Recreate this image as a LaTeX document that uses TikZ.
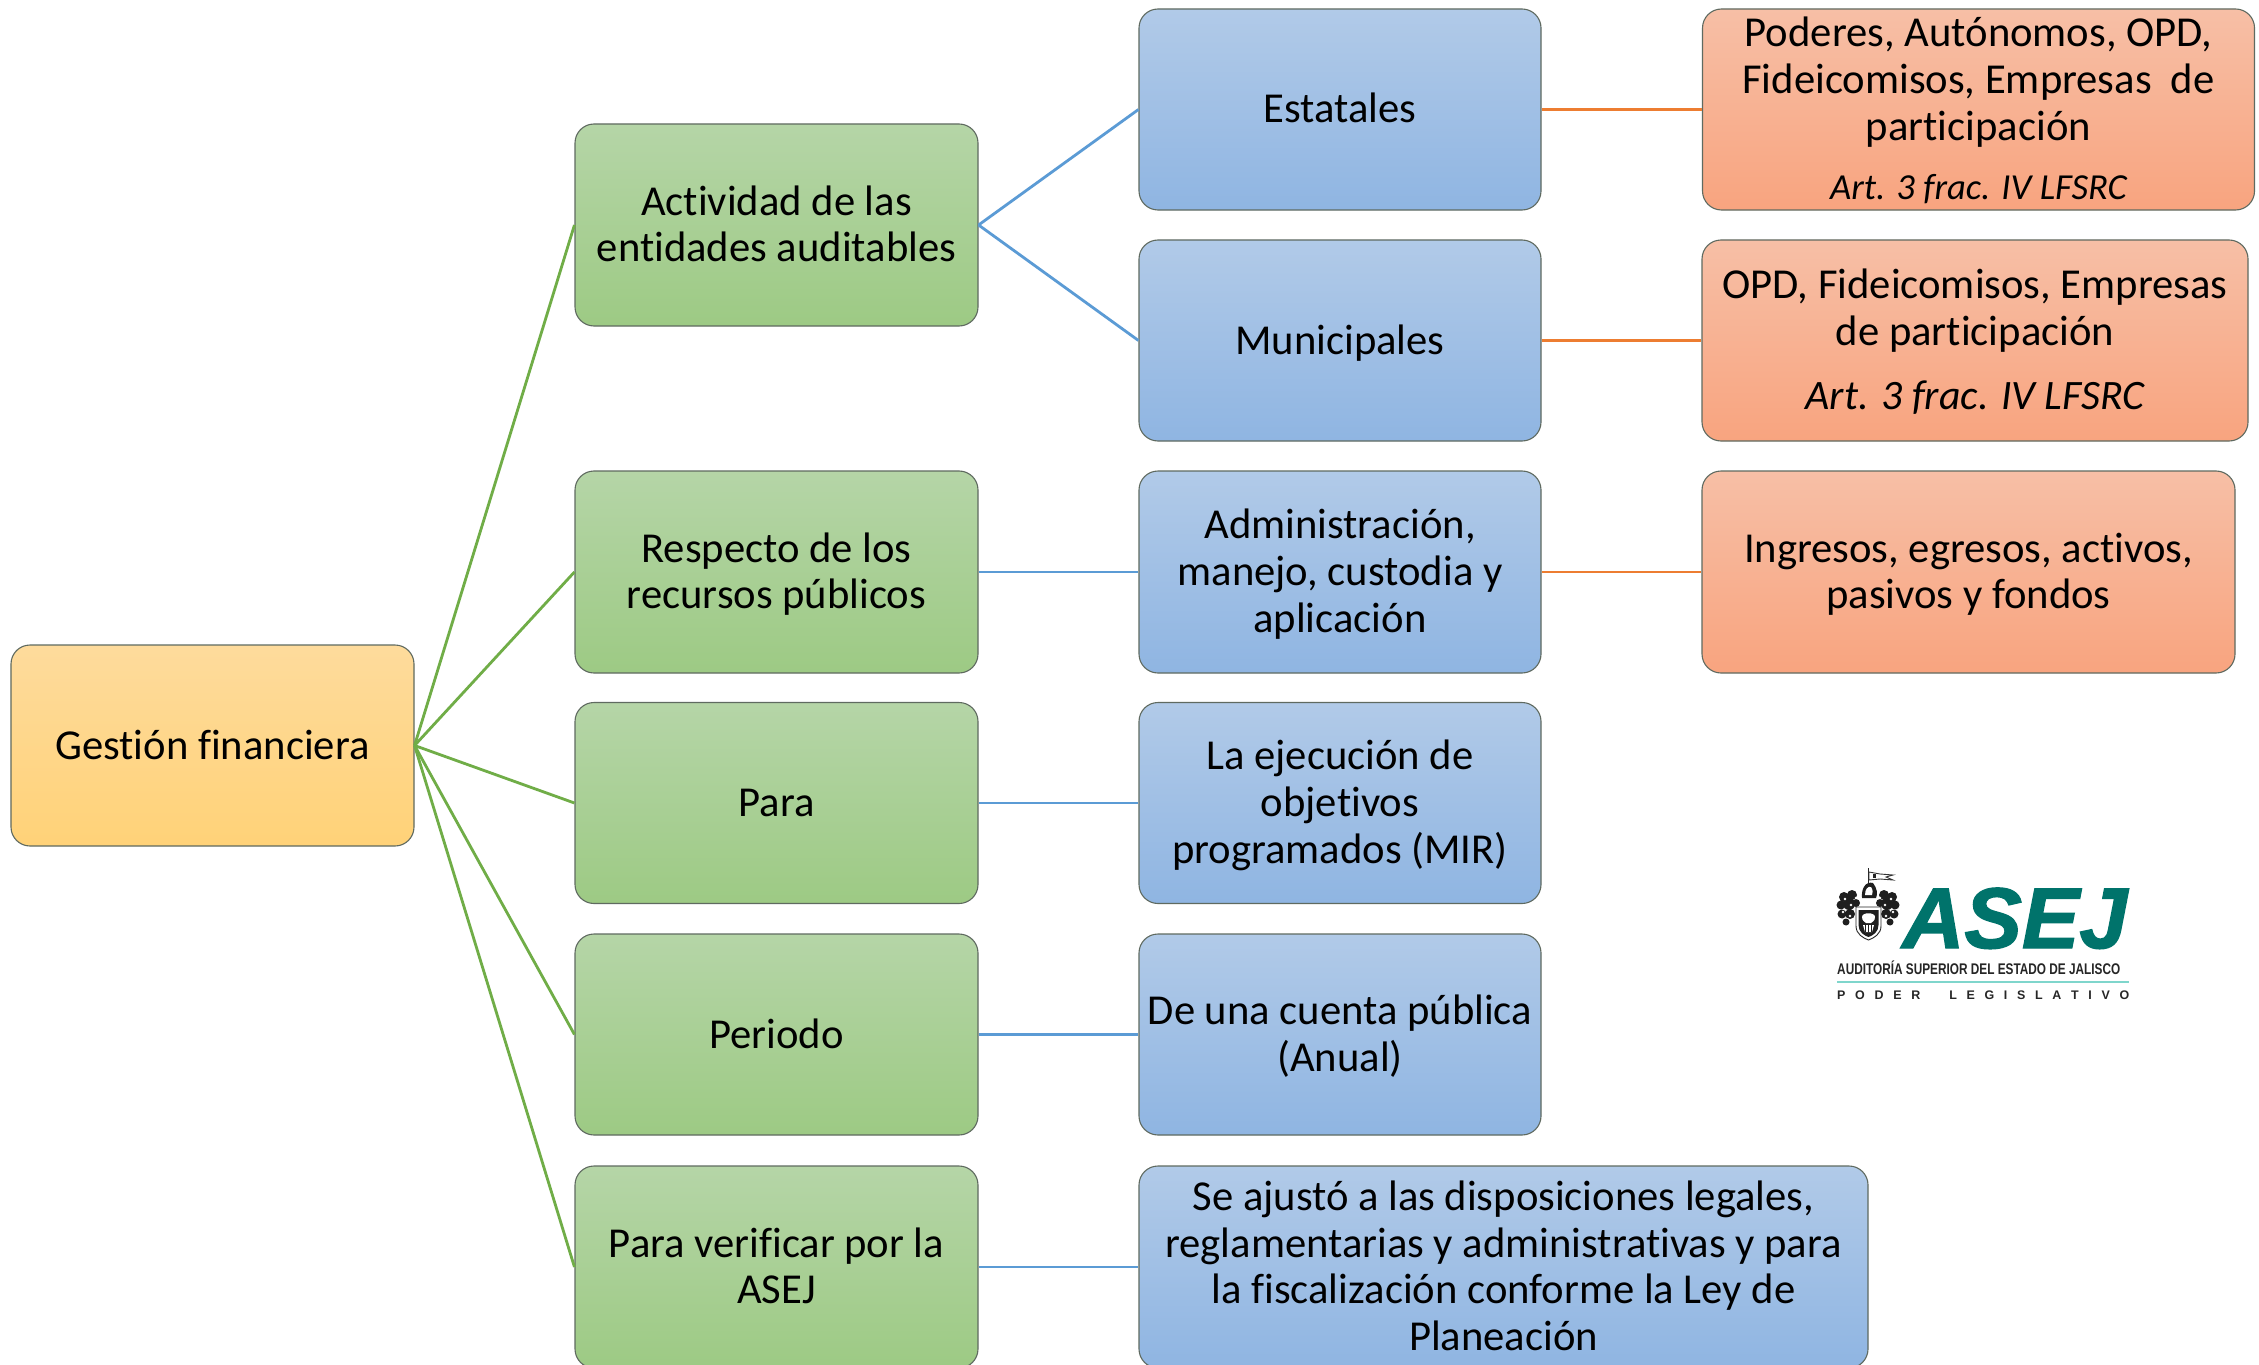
\documentclass[tikz,border=0pt]{standalone}
\usepackage{fontspec}
\setmainfont{Carlito}[Ligatures={NoCommon}]
\newfontfamily\logofont{Liberation Sans}
\newfontfamily\logobold{Liberation Sans}[BoldItalicFeatures={FakeBold=1.6}]
\definecolor{rootA}{HTML}{FEDB9C}
\definecolor{rootB}{HTML}{FFD278}
\definecolor{greenA}{HTML}{B5D5A7}
\definecolor{greenB}{HTML}{9DCA84}
\definecolor{blueA}{HTML}{B1CAE8}
\definecolor{blueB}{HTML}{8FB5E2}
\definecolor{redA}{HTML}{F7BFA6}
\definecolor{redB}{HTML}{F8A47F}
\definecolor{lineG}{HTML}{70AD47}
\definecolor{lineB}{HTML}{5B9BD5}
\definecolor{lineO}{HTML}{ED7D31}
\definecolor{asej}{HTML}{00736B}
\definecolor{asejrule}{HTML}{7FD6CC}
\definecolor{boxedge}{HTML}{5F6A60}
\newcommand{\topstrut}{\rule{0pt}{41bp}}
\newcommand{\botstrut}{\rule[-14bp]{0pt}{14bp}}
\tikzset{
  x=1bp,y=-1bp,
  box/.style={draw=boxedge,line width=1.1bp,rounded corners=19bp,align=center,inner sep=0pt,
    font=\fontsize{42.8pt}{47.1pt}\selectfont,text=black,
    execute at end node=\botstrut},
  rootbox/.style={box,top color=rootA,bottom color=rootB},
  greenbox/.style={box,top color=greenA,bottom color=greenB},
  bluebox/.style={box,top color=blueA,bottom color=blueB},
  redbox/.style={box,top color=redA,bottom color=redB},
  gline/.style={draw=lineG,line width=2.8bp},
  bline/.style={draw=lineB,line width=2.8bp},
  oline/.style={draw=lineO,line width=2.8bp},
  logotext/.style={inner sep=0pt,text=black!85,anchor=base west},
  crestink/.style={fill=black!88,draw=none},
  crestpaper/.style={fill=white,draw=none},
}
\begin{document}
\begin{tikzpicture}
\useasboundingbox (0,0) rectangle (2259,1365);
\fill[white] (0,0) rectangle (2259,1365);
% root
\node[rootbox,minimum width=403bp,minimum height=201bp] (root) at (212.5,745.5) {\topstrut Gestión financiera};
% green
\node[greenbox,minimum width=403bp,minimum height=202bp] (g1) at (776.5,225) {\topstrut Actividad de las\\entidades auditables};
\node[greenbox,minimum width=403bp,minimum height=202bp] (g2) at (776.5,572) {\topstrut Respecto de los\\recursos públicos};
\node[greenbox,minimum width=403bp,minimum height=201bp] (g3) at (776.5,803) {\topstrut Para};
\node[greenbox,minimum width=403bp,minimum height=201bp] (g4) at (776.5,1034.5) {\topstrut Periodo};
\node[greenbox,minimum width=403bp,minimum height=202bp] (g5) at (776.5,1267) {\topstrut Para verificar por la\\ASEJ};
% blue
\node[bluebox,minimum width=402bp,minimum height=201bp] (b1) at (1340,109.5) {\topstrut Estatales};
\node[bluebox,minimum width=402bp,minimum height=201bp] (b2) at (1340,340.5) {\topstrut Municipales};
\node[bluebox,minimum width=402bp,minimum height=202bp] (b3) at (1340,572) {\topstrut Administración,\\manejo, custodia y\\aplicación};
\node[bluebox,minimum width=402bp,minimum height=201bp] (b4) at (1340,803) {\topstrut La ejecución de\\objetivos\\programados (MIR)};
\node[bluebox,minimum width=402bp,minimum height=201bp] (b5) at (1340,1034.5) {\topstrut De una cuenta pública\\(Anual)};
\node[bluebox,minimum width=729bp,minimum height=202bp] (b6) at (1503.5,1267) {\topstrut Se ajustó a las disposiciones legales,\\reglamentarias y administrativas y para\\la fiscalización conforme la Ley de\\Planeación};
% red
\node[redbox,inner ysep=-4bp,minimum width=552bp,minimum height=201bp] (r1) at (1978.5,109.5) {\topstrut Poderes, Autónomos, OPD,\\Fideicomisos, Empresas~ de\\participación\\[12bp]{\fontsize{36.8pt}{40pt}\selectfont\itshape Art. 3 frac. IV LFSRC}};
\node[redbox,minimum width=546bp,minimum height=201bp] (r2) at (1975,340.5) {\topstrut OPD, Fideicomisos, Empresas\\de participación\\[18bp]{\fontsize{42pt}{47pt}\selectfont\itshape Art. 3 frac. IV LFSRC}};
\node[redbox,minimum width=533bp,minimum height=202bp] (r3) at (1968.5,572) {\topstrut Ingresos, egresos, activos,\\pasivos y fondos};
% connectors
\foreach \t in {g1,g2,g3,g4,g5} \draw[gline] (root.east) -- (\t.west);
\draw[bline] (g1.east) -- (b1.west);
\draw[bline] (g1.east) -- (b2.west);
\draw[bline] (g2.east) -- (b3.west);
\draw[bline] (g3.east) -- (b4.west);
\draw[bline] (g4.east) -- (b5.west);
\draw[bline] (g5.east) -- (b6.west);
\draw[oline] (b1.east) -- (r1.west);
\draw[oline] (b2.east) -- (r2.west);
\draw[oline] (b3.east) -- (r3.west);
% logo text
\node[inner sep=0pt,anchor=base west,text=asej] (logoA) at (1902,948) {\fontsize{86.5pt}{88pt}\selectfont\logobold\bfseries\itshape ASEJ};
\node[logotext] (logoB) at (1837,974) {\scalebox{0.765}[1]{\fontsize{15.5pt}{16pt}\selectfont\logofont\bfseries AUDITORÍA SUPERIOR DEL ESTADO DE JALISCO}};
\draw[asejrule,line width=1.6bp] (1837,982) -- (2129,982);
\node[logotext] (logoC) at (1837,999) {\makebox[292bp][s]{\fontsize{12.5pt}{13pt}\selectfont\logofont\bfseries P\hfill O\hfill D\hfill E\hfill R\hfill\hfill\hfill L\hfill E\hfill G\hfill I\hfill S\hfill L\hfill A\hfill T\hfill I\hfill V\hfill O}};
% crest: flag and pole
\draw[black!85,line width=1bp] (1868,868) -- (1868,890);
\path[fill=white,draw=black!80,line width=.9bp] (1869,872) -- (1880,874) -- (1893,875) -- (1886,877) -- (1893,880) -- (1880,879) -- (1869,880) -- cycle;
\fill[black!85] (1873,874) rectangle (1876,878);
% crest: helmet
\path[crestink] (1862,898) .. controls (1861,888) and (1866,881) .. (1873,883) .. controls (1877,888) and (1878,894) .. (1876,898) -- cycle;
\path[crestpaper] (1865,895) .. controls (1865,889) and (1868,886) .. (1871,887) .. controls (1873,890) and (1873,893) .. (1872,895) -- cycle;
% crest: mantling
\foreach \cx/\cy/\r in {1844/897/5,1852/895/5,1841/905/4.5,1849/904/6,1856/903/4,1842/914/4.5,1850/914/5,1846/922/3.5,1892/897/5,1884/895/5,1895/905/4.5,1887/904/6,1880/903/4,1894/914/4.5,1886/914/5,1890/922/3.5}
  \path[crestink] (\cx,\cy) circle (\r);
\foreach \cx/\cy in {1845/899,1851/905,1843/912,1850/916,1856/898,1891/899,1885/905,1893/912,1886/916,1880/898}
  \path[crestpaper] (\cx,\cy) circle (1.4);
% crest: shield
\path[fill=white,draw=black!85,line width=.9bp] (1856,907) -- (1881,907) -- (1881,926) .. controls (1881,934) and (1874,938) .. (1868.5,940) .. controls (1863,938) and (1856,934) .. (1856,926) -- cycle;
\path[crestink] (1858.5,910) -- (1878.5,910) -- (1878.5,925) .. controls (1878.5,932) and (1873,935.5) .. (1868.5,937) .. controls (1864,935.5) and (1858.5,932) .. (1858.5,925) -- cycle;
\path[crestpaper] (1862,917) .. controls (1862,912) and (1875,912) .. (1875,917) .. controls (1875,921) and (1872,922) .. (1871,923) -- (1866,923) .. controls (1865,922) and (1862,921) .. (1862,917) -- cycle;
\path[crestpaper] (1863,925) -- (1874,925) -- (1872,932) -- (1865,932) -- cycle;
\foreach \cx in {1865.5,1868.5,1871.5} \draw[black!88,line width=.8bp] (\cx,925) -- (\cx,932);
\end{tikzpicture}
\end{document}
